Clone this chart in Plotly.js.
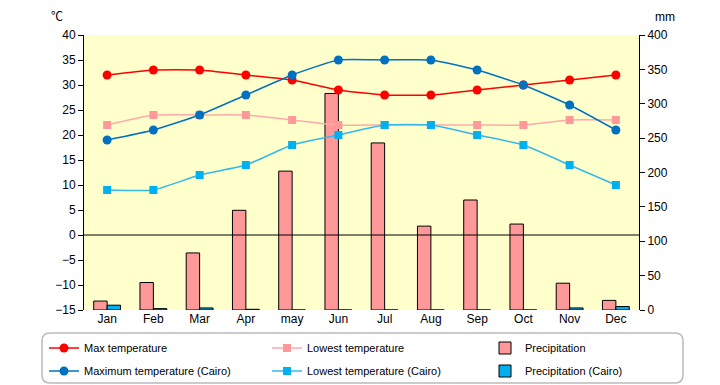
<!DOCTYPE html>
<html>
<head>
<meta charset="utf-8">
<script src="https://cdn.plot.ly/plotly-3.0.1.min.js"></script>
<style>html,body{margin:0;padding:0;background:#fff;}#chart{width:720px;height:385px;}</style>
</head>
<body>
<div id="chart"></div>
<script>
const months = ['Jan','Feb','Mar','Apr','may','Jun','Jul','Aug','Sep','Oct','Nov','Dec'];
const maxTemp = [32,33,33,32,31,29,28,28,29,30,31,32];
const lowTemp = [22,24,24,24,23,22,22,22,22,22,23,23];
const precip = [13,40,83,145,202,315,243,122,160,125,39,14];
const cairoMax = [19,21,24,28,32,35,35,35,33,30,26,21];
const cairoLow = [9,9,12,14,18,20,22,22,20,18,14,10];
const cairoPrecip = [7,2,3,1,0,0,0,0,0,0,3,5];

const FONT = 'Liberation Sans, Noto Sans CJK JP, sans-serif';

const traces = [
  {type:'bar', name:'Precipitation', x:months, y:precip, yaxis:'y',
   marker:{color:'#FF9999', line:{color:'#000000', width:1}}, legend:'legend3'},
  {type:'bar', name:'Precipitation (Cairo)', x:months, y:cairoPrecip, yaxis:'y',
   marker:{color:'#00B0F0', line:{color:'#000000', width:1}}, legend:'legend6'},
  {type:'scatter', mode:'lines+markers', name:'Max temperature', x:months, y:maxTemp, yaxis:'y2',
   line:{color:'#FF0000', width:1.5, shape:'spline', smoothing:0.5}, marker:{symbol:'circle', size:9, color:'#FF0000'}, legend:'legend'},
  {type:'scatter', mode:'lines+markers', name:'Lowest temperature', x:months, y:lowTemp, yaxis:'y2',
   line:{color:'#FFAAAA', width:1.5, shape:'spline', smoothing:0.5}, marker:{symbol:'square', size:8, color:'#FF9999'}, legend:'legend2'},
  {type:'scatter', mode:'lines+markers', name:'Maximum temperature (Cairo)', x:months, y:cairoMax, yaxis:'y2',
   line:{color:'#0070C0', width:1.5, shape:'spline', smoothing:0.5}, marker:{symbol:'circle', size:9, color:'#0070C0'}, legend:'legend4'},
  {type:'scatter', mode:'lines+markers', name:'Lowest temperature (Cairo)', x:months, y:cairoLow, yaxis:'y2',
   line:{color:'#33B8EE', width:1.5, shape:'spline', smoothing:0.5}, marker:{symbol:'square', size:8, color:'#00B0F0'}, legend:'legend5'}
];

const L = 84, T = 35, W = 555, H = 275;
const px = v => (v - L) / W;
const py = v => (T + H - v) / H;

const x0 = px(42), x1 = px(683), yt = py(333), yb = py(383);
const rx = 8 / W, ry = 8 / H;
const boxPath = `M${x0+rx},${yt} L${x1-rx},${yt} Q${x1},${yt} ${x1},${yt-ry} L${x1},${yb+ry} Q${x1},${yb} ${x1-rx},${yb} L${x0+rx},${yb} Q${x0},${yb} ${x0},${yb+ry} L${x0},${yt-ry} Q${x0},${yt} ${x0+rx},${yt} Z`;

function leg(xp, yp) {
  return {
    x:px(xp), y:py(yp), xanchor:'left', yanchor:'middle', orientation:'v',
    font:{family:FONT, size:11, color:'#000'}, bgcolor:'rgba(0,0,0,0)', borderwidth:0,
    itemclick:false, itemdoubleclick:false
  };
}

const layout = {
  width:720, height:385,
  margin:{l:L, r:720-L-W, t:T, b:385-T-H, pad:0, autoexpand:false},
  paper_bgcolor:'#FFFFFF', plot_bgcolor:'#FFFFCC',
  font:{family:FONT, size:12, color:'#000'},
  barmode:'group', bargap:0.42, bargroupgap:0,
  showlegend:true,
  legend:leg(44, 348),
  legend2:leg(267, 348),
  legend3:leg(485, 348),
  legend4:leg(44, 371),
  legend5:leg(267, 371),
  legend6:leg(485, 371),
  xaxis:{type:'category', range:[-0.5, 11.5], autorange:false, showline:false, ticks:'', showgrid:false, zeroline:false,
         tickfont:{family:FONT, size:12}, fixedrange:true},
  yaxis:{side:'right', range:[0,400], dtick:50, tick0:0, ticks:'outside', ticklen:5, tickcolor:'#000',
         showline:true, linecolor:'#000', linewidth:1, showgrid:false, zeroline:false,
         tickfont:{family:FONT, size:12}, fixedrange:true},
  yaxis2:{overlaying:'y', side:'left', range:[-15,40], dtick:5, tick0:0, ticks:'outside', ticklen:5, tickcolor:'#000',
          showline:true, linecolor:'#000', linewidth:1, showgrid:false, zeroline:false,
          tickfont:{family:FONT, size:12}, fixedrange:true},
  shapes:[
    {type:'line', xref:'paper', yref:'y2', x0:0, x1:1, y0:0, y1:0, line:{color:'#000', width:1}, layer:'above'},
    {type:'path', xref:'paper', yref:'paper', path:boxPath, line:{color:'#BBBBBB', width:1.5}, fillcolor:'rgba(0,0,0,0)', layer:'below'}
  ],
  annotations:[
    {text:'℃', xref:'paper', yref:'paper', x:px(57), y:py(17), showarrow:false, xanchor:'center', yanchor:'middle', font:{family:FONT, size:12}},
    {text:'mm', xref:'paper', yref:'paper', x:px(665), y:py(17), showarrow:false, xanchor:'center', yanchor:'middle', font:{family:FONT, size:12}}
  ]
};

Plotly.newPlot('chart', traces, layout, {staticPlot:true, displayModeBar:false});
</script>
</body>
</html>
